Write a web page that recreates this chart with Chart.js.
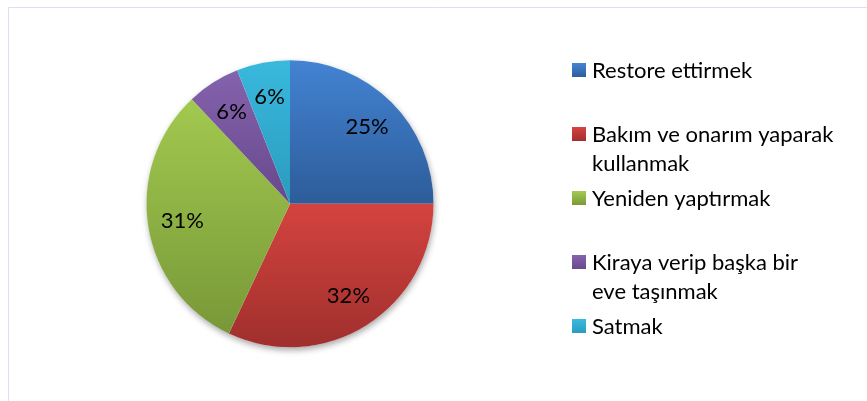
<!DOCTYPE html>
<html>
<head>
<meta charset="utf-8">
<script src="https://cdn.jsdelivr.net/npm/chart.js@4"></script>
<style>
  html, body { margin: 0; padding: 0; background: #fff; }
  #wrap { width: 867px; height: 401px; }
</style>
</head>
<body>
<div id="wrap"><canvas id="myChart" width="867" height="401"></canvas></div>
<script>
// answers, one per slice (legend lines kept as separate strings)
const categories = [
    ['Restore ettirmek'],
    ['Bakım ve onarım yaparak', 'kullanmak'],
    ['Yeniden yaptırmak'],
    ['Kiraya verip başka bir', 'eve taşınmak'],
    ['Satmak']
]
const percentages = [25, 32, 31, 6, 6]

// light (top) and dark (bottom) shade of every slice
const shades = [
    ['#4383D3', '#2D5C99'],
    ['#D4433F', '#A02F2D'],
    ['#A2C94F', '#789838'],
    ['#8463AD', '#68488C'],
    ['#39B9DE', '#2A9BBC']
]

const FONT = 'Lato, "Open Sans", sans-serif'

// thin frame along the top and left
const framePlugin = {
    id: 'frame',
    beforeDraw(chart) {
        const c = chart.ctx
        c.save()
        c.strokeStyle = '#D8E2EF'
        c.lineWidth = 1
        c.beginPath()
        c.moveTo(8.5, 401)
        c.lineTo(8.5, 7.5)
        c.lineTo(867, 7.5)
        c.stroke()
        c.restore()
    }
}

// soft shadow under the pie + per-slice vertical gradients
const pieShading = {
    id: 'pieShading',
    beforeDatasetsDraw(chart) {
        const arcs = chart.getDatasetMeta(0).data
        if (!arcs.length) return
        const c = chart.ctx
        const a0 = arcs[0]
        c.save()
        c.shadowColor = 'rgba(0,0,0,0.35)'
        c.shadowBlur = 6
        c.shadowOffsetX = 1
        c.shadowOffsetY = 3
        c.fillStyle = '#fff'
        c.beginPath()
        c.arc(a0.x, a0.y, a0.outerRadius, 0, Math.PI * 2)
        c.fill()
        c.restore()

        arcs.forEach((arc, i) => {
            const r = arc.outerRadius
            const s = arc.startAngle, e = arc.endAngle
            let ys = [arc.y, arc.y + r * Math.sin(s), arc.y + r * Math.sin(e)]
            const inRange = (t) => {
                for (let k = -2; k <= 2; k++) {
                    const v = t + k * Math.PI * 2
                    if (v >= s && v <= e) return true
                }
                return false
            }
            if (inRange(-Math.PI / 2)) ys.push(arc.y - r)
            if (inRange(Math.PI / 2)) ys.push(arc.y + r)
            const top = Math.min(...ys), bot = Math.max(...ys)
            const g = c.createLinearGradient(0, top, 0, bot)
            g.addColorStop(0, shades[i][0])
            g.addColorStop(1, shades[i][1])
            arc.options.backgroundColor = g
        })
    },
    afterDatasetsDraw(chart) {
        const c = chart.ctx
        const arcs = chart.getDatasetMeta(0).data
        c.save()
        c.font = '22px ' + FONT
        c.fillStyle = '#000'
        c.textAlign = 'center'
        c.textBaseline = 'middle'
        arcs.forEach((arc, i) => {
            const mid = (arc.startAngle + arc.endAngle) / 2
            const rr = arc.outerRadius * 0.76
            c.fillText(percentages[i] + '%', arc.x + rr * Math.cos(mid), arc.y + rr * Math.sin(mid))
        })
        c.restore()
    }
}

// legend on the right, wrapped labels
const sideLegend = {
    id: 'sideLegend',
    afterDraw(chart) {
        const c = chart.ctx
        const x = 572, firstBase = 77.5, step = 64, lineH = 29, box = 14
        c.save()
        c.font = '22px ' + FONT
        c.textBaseline = 'alphabetic'
        c.textAlign = 'left'
        categories.forEach((lines, i) => {
            const base = firstBase + i * step
            const g = c.createLinearGradient(0, base - 14, 0, base)
            g.addColorStop(0, shades[i][0])
            g.addColorStop(1, shades[i][1])
            c.fillStyle = g
            c.fillRect(x, base - 14.5, box, box)
            c.fillStyle = '#000'
            lines.forEach((t, j) => c.fillText(t, x + 20, base + j * lineH))
        })
        c.restore()
    }
}

new Chart(document.getElementById('myChart'), {
    type: 'pie',
    data: {
        labels: categories,
        datasets: [{
            data: percentages,
            backgroundColor: shades.map(s => s[0]),
            borderWidth: 0
        }]
    },
    options: {
        responsive: false,
        animation: false,
        layout: {
            padding: { top: 60, bottom: 53.5, left: 146.5, right: 433.5 }
        },
        plugins: {
            legend: { display: false },
            tooltip: { enabled: false }
        }
    },
    plugins: [framePlugin, pieShading, sideLegend]
})
</script>
</body>
</html>
